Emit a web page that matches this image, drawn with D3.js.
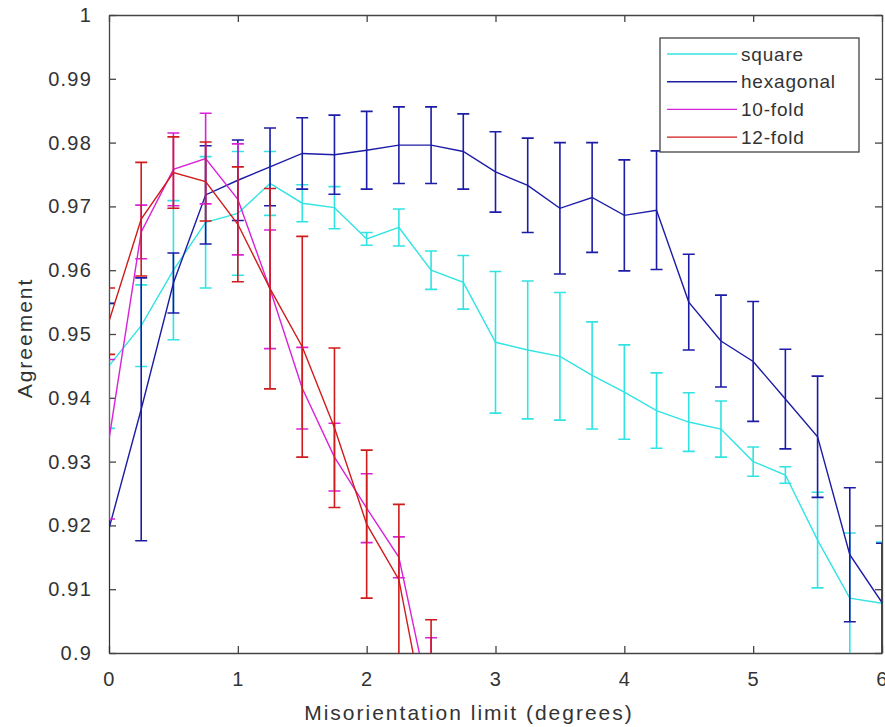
<!DOCTYPE html>
<html>
<head>
<meta charset="utf-8">
<script src="https://cdn.jsdelivr.net/npm/d3@7"></script>
<style>
  html, body { margin: 0; padding: 0; background: #fff; }
  svg { display: block; font-family: "Liberation Sans", Arial, sans-serif; }
  .axis text { font-size: 20px; fill: #333; letter-spacing: 1.2px; }
  .axis path, .axis line { stroke: #444; stroke-width: 1.3; }
</style>
</head>
<body>
<svg id="chart" width="885" height="727"></svg>
<script>
// misorientation limit (degrees)
var limits = [0, 0.25, 0.5, 0.75, 1, 1.25, 1.5, 1.75, 2, 2.25, 2.5, 2.75, 3,
  3.25, 3.5, 3.75, 4, 4.25, 4.5, 4.75, 5, 5.25, 5.5, 5.75, 6];

var squareMean = [0.945, 0.9513, 0.96, 0.9675, 0.9689, 0.9736, 0.9705, 0.9698, 0.9649, 0.9667,
  0.96, 0.9581, 0.9487, 0.9475, 0.9465, 0.9435, 0.9409, 0.938, 0.9362, 0.9351,
  0.93, 0.9279, 0.9177, 0.9086, 0.9078];
var squareErr = [0.0098, 0.0064, 0.0109, 0.0103, 0.0097, 0.005, 0.0029, 0.0033, 0.001, 0.0029,
  0.003, 0.0042, 0.0111, 0.0108, 0.01, 0.0084, 0.0074, 0.0059, 0.0046, 0.0044,
  0.0023, 0.0013, 0.0075, 0.0102, 0.0096];

var hexMean = [0.9195, 0.9382, 0.958, 0.9718, 0.9741, 0.9762, 0.9783, 0.9781, 0.9788, 0.9796,
  0.9796, 0.9786, 0.9754, 0.9733, 0.9697, 0.9714, 0.9686, 0.9694, 0.955, 0.9489,
  0.9457, 0.9398, 0.9339, 0.9154, 0.9079];
var hexErr = [0.0353, 0.0206, 0.0047, 0.0077, 0.0063, 0.0061, 0.0056, 0.0062, 0.0061, 0.006,
  0.006, 0.0059, 0.0063, 0.0074, 0.0103, 0.0086, 0.0087, 0.0093, 0.0075, 0.0072,
  0.0094, 0.0078, 0.0095, 0.0105, 0.0093];

var tenMean = [0.9335, 0.966, 0.9758, 0.9775, 0.9711, 0.957, 0.9415, 0.9307, 0.9227, 0.915, 0.8914];
var tenErr = [0.0125, 0.0042, 0.0057, 0.0071, 0.0087, 0.0093, 0.0064, 0.0053, 0.0054, 0.0032, 0.011];

var twelveMean = [0.952, 0.968, 0.9753, 0.9739, 0.9672, 0.9571, 0.948, 0.9353, 0.9202, 0.9115, 0.8854];
var twelveErr = [0.0052, 0.0089, 0.0056, 0.0062, 0.009, 0.0157, 0.0173, 0.0125, 0.0116, 0.0118, 0.0198];

var seriesNames = ['square', 'hexagonal', '10-fold', '12-fold'];
var seriesColors = ['#33e3e3', '#1c1ca6', '#d822d8', '#cf1b1b'];

var xTicks = [0, 1, 2, 3, 4, 5, 6];
var yTicks = [0.9, 0.91, 0.92, 0.93, 0.94, 0.95, 0.96, 0.97, 0.98, 0.99, 1];

var series = [
  { mean: squareMean, err: squareErr },
  { mean: hexMean, err: hexErr },
  { mean: tenMean, err: tenErr },
  { mean: twelveMean, err: twelveErr }
].map(function(s, i) {
  return {
    name: seriesNames[i], color: seriesColors[i],
    pts: s.mean.map(function(m, j) { return { x: limits[j], y: m, e: s.err[j] }; })
  };
});

var L = 109, R = 882, T = 15, B = 653;
var svg = d3.select('#chart');
var x = d3.scaleLinear().domain([0, 6]).range([L, R]);
var y = d3.scaleLinear().domain([0.9, 1]).range([B, T]);

svg.append('defs').append('clipPath').attr('id', 'plot-clip')
  .append('rect').attr('x', L).attr('y', T).attr('width', R - L).attr('height', B - T);

// axes, ticks pointing inward on all four sides
svg.append('g').attr('class', 'axis').attr('transform', 'translate(0,' + B + ')')
  .call(d3.axisBottom(x).tickValues(xTicks).tickFormat(String).tickSizeInner(-7).tickSizeOuter(0).tickPadding(19));
svg.append('g').attr('class', 'axis').attr('transform', 'translate(0,' + T + ')')
  .call(d3.axisTop(x).tickValues(xTicks).tickFormat('').tickSizeInner(-7).tickSizeOuter(0));
svg.append('g').attr('class', 'axis').attr('transform', 'translate(' + L + ',0)')
  .call(d3.axisLeft(y).tickValues(yTicks).tickFormat(String)
    .tickSizeInner(-7).tickSizeOuter(0).tickPadding(17));
svg.append('g').attr('class', 'axis').attr('transform', 'translate(' + R + ',0)')
  .call(d3.axisRight(y).tickValues(yTicks).tickFormat('').tickSizeInner(-7).tickSizeOuter(0));

// data
var plot = svg.append('g').attr('clip-path', 'url(#plot-clip)');
var line = d3.line().x(function(d) { return x(d.x); }).y(function(d) { return y(d.y); });
var cap = 6;

series.forEach(function(s) {
  var g = plot.append('g');
  g.append('path').datum(s.pts).attr('d', line)
    .attr('fill', 'none').attr('stroke', s.color).attr('stroke-width', 1.4);
  g.selectAll('path.eb').data(s.pts).join('path').attr('class', 'eb')
    .attr('fill', 'none').attr('stroke', s.color).attr('stroke-width', 1.6)
    .attr('d', function(d) {
      var cx = x(d.x), y0 = y(d.y + d.e), y1 = y(d.y - d.e);
      return 'M' + cx + ',' + y0 + 'V' + y1 +
        'M' + (cx - cap) + ',' + y0 + 'H' + (cx + cap) +
        'M' + (cx - cap) + ',' + y1 + 'H' + (cx + cap);
    });
});

// axis labels
svg.append('text').attr('x', 469).attr('y', 720).attr('text-anchor', 'middle')
  .attr('font-size', 21).attr('letter-spacing', '2px').attr('fill', '#333').text('Misorientation limit (degrees)');
svg.append('text').attr('transform', 'translate(32,' + ((T + B) / 2 + 4) + ') rotate(-90)')
  .attr('text-anchor', 'middle').attr('font-size', 21).attr('letter-spacing', '2px').attr('fill', '#333').text('Agreement');

// legend
var lg = svg.append('g');
lg.append('rect').attr('x', 660).attr('y', 38).attr('width', 199).attr('height', 114)
  .attr('fill', '#fff').attr('stroke', '#444').attr('stroke-width', 1.3);
var rows = lg.selectAll('g.row').data(series).join('g').attr('class', 'row')
  .attr('transform', function(d, i) { return 'translate(0,' + (54 + i * 27.7) + ')'; });
rows.append('line').attr('x1', 667).attr('x2', 737).attr('stroke', function(d) { return d.color; }).attr('stroke-width', 1.4);
rows.append('text').attr('x', 741).attr('dy', '0.35em').attr('font-size', 19).attr('letter-spacing', '0.8px').attr('fill', '#333')
  .text(function(d) { return d.name; });
</script>
</body>
</html>
